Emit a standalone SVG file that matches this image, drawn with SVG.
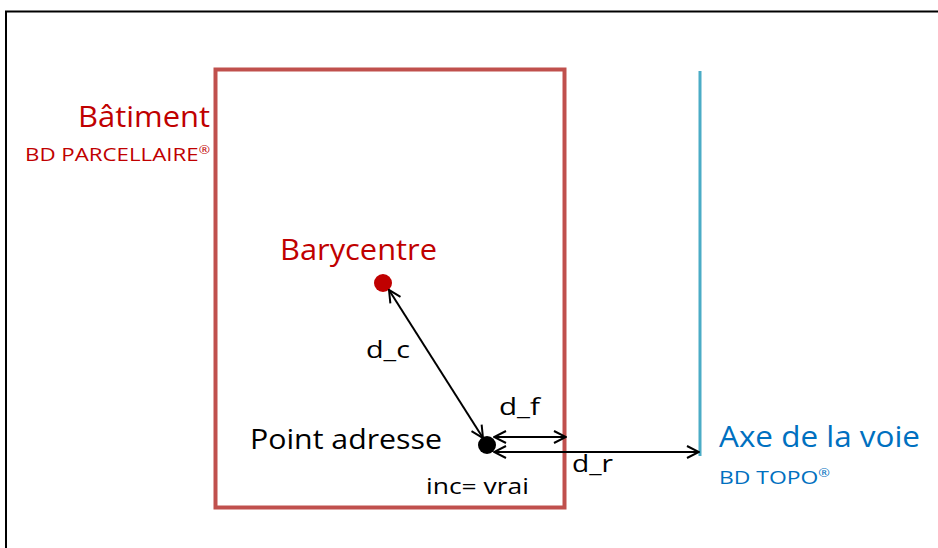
<svg xmlns="http://www.w3.org/2000/svg" width="938" height="548" viewBox="0 0 938 548">
<style>
text{font-family:"Open Sans",Lato,sans-serif}
.red{fill:#C00000}
.blue{fill:#0070C0}
.blk{fill:#000}
.conn{stroke:#000;stroke-width:2;fill:none;marker-start:url(#ah);marker-end:url(#ah)}
</style>
<defs>
<marker id="ah" viewBox="0 0 14 14" refX="13" refY="7" markerWidth="14" markerHeight="14" markerUnits="userSpaceOnUse" orient="auto-start-reverse">
<path d="M1,1 L13,7 L1,13" fill="none" stroke="#000" stroke-width="2"/>
</marker>
</defs>
<rect x="0" y="0" width="938" height="548" fill="#fff"/>
<path d="M6,548 V11.5 H938" fill="none" stroke="#000" stroke-width="2"/>
<g id="batiment">
<rect x="215.5" y="69.5" width="349" height="438" fill="none" stroke="#C0504D" stroke-width="4"/>
<text x="78" y="127" font-size="30" class="red" textLength="132" lengthAdjust="spacingAndGlyphs">Bâtiment</text>
<text x="25" y="161" font-size="18" class="red" textLength="185" lengthAdjust="spacingAndGlyphs">BD PARCELLAIRE<tspan font-size="11" dy="-7">®</tspan></text>
</g>
<g id="axe">
<line x1="700" y1="71" x2="700" y2="456" stroke="#4BACC6" stroke-width="3"/>
<text x="719" y="447" font-size="30" class="blue" textLength="201" lengthAdjust="spacingAndGlyphs">Axe de la voie</text>
<text x="719" y="484" font-size="18" class="blue" textLength="111" lengthAdjust="spacingAndGlyphs">BD TOPO<tspan font-size="11" dy="-7">®</tspan></text>
</g>
<g id="barycentre">
<circle cx="383" cy="283" r="9" fill="#C00000"/>
<text x="280" y="260" font-size="30" class="red" textLength="157" lengthAdjust="spacingAndGlyphs">Barycentre</text>
</g>
<g id="point">
<circle cx="487" cy="445" r="9" fill="#000"/>
<text x="250" y="449" font-size="28" class="blk" textLength="192" lengthAdjust="spacingAndGlyphs">Point adresse</text>
<text x="426" y="494" font-size="21" class="blk" textLength="103" lengthAdjust="spacingAndGlyphs">inc= vrai</text>
</g>
<g id="connectors">
<line class="conn" x1="483" y1="438" x2="389" y2="290"/>
<line class="conn" x1="494" y1="437" x2="566" y2="437"/>
<line class="conn" x1="494" y1="452" x2="699" y2="452"/>
<text x="366" y="358" font-size="23" class="blk" textLength="44" lengthAdjust="spacingAndGlyphs">d_c</text>
<text x="499" y="415" font-size="23" class="blk" textLength="41" lengthAdjust="spacingAndGlyphs">d_f</text>
<text x="572" y="472" font-size="23" class="blk" textLength="41" lengthAdjust="spacingAndGlyphs">d_r</text>
</g>
</svg>
